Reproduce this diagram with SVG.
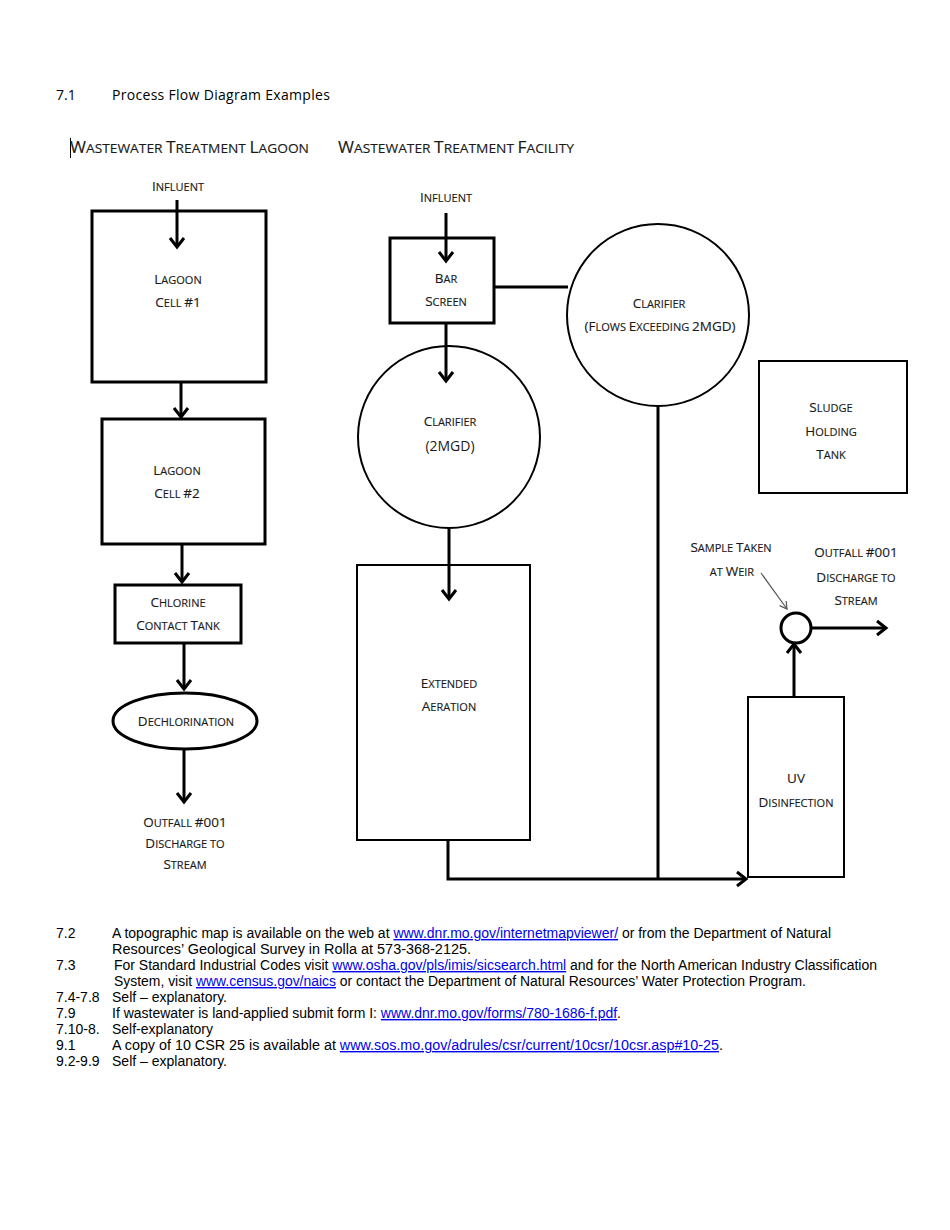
<svg xmlns="http://www.w3.org/2000/svg" width="950" height="1230" viewBox="0 0 950 1230">
<style>
.box{fill:#fff;stroke:#000;stroke-width:3}
.thin{fill:#fff;stroke:#000;stroke-width:2}
.lbl{font-family:"Open Sans","Liberation Sans",sans-serif;font-size:11px;fill:#1a1a1a;text-anchor:middle;stroke:#1a1a1a;stroke-width:0.15}
.C{font-size:13.5px}
.ttl{font-family:"Open Sans","Liberation Sans",sans-serif;font-size:13.5px;fill:#1a1a1a;stroke:#1a1a1a;stroke-width:0.15}
.T{font-size:17px}
.ln{fill:none;stroke:#000;stroke-width:3}
.ft{font-family:"Liberation Sans",Arial,sans-serif;font-size:14px;fill:#000}
.lk{fill:#0000ee;text-decoration:underline}
</style>
<defs>
<marker id="ah" markerUnits="userSpaceOnUse" markerWidth="24" markerHeight="24" viewBox="-12 -12 24 24" refX="0" refY="0" orient="auto">
<path d="M-9,-7 L0,0 L-9,7" fill="none" stroke="#000" stroke-width="3"/>
</marker>
<marker id="ahs" markerUnits="userSpaceOnUse" markerWidth="16" markerHeight="16" viewBox="-8 -8 16 16" refX="0" refY="0" orient="auto">
<path d="M-7,-4 L0,0 L-7,4" fill="none" stroke="#555" stroke-width="1.2"/>
</marker>
</defs>
<rect width="950" height="1230" fill="#fff"/>

<text x="56" y="100" font-family="Open Sans, Liberation Sans, sans-serif" font-size="14" fill="#000">7.1</text>
<text x="112" y="100" font-family="Open Sans, Liberation Sans, sans-serif" font-size="14" fill="#000" letter-spacing="0.3">Process Flow Diagram Examples</text>
<line x1="70.5" y1="138" x2="70.5" y2="158" stroke="#000" stroke-width="1"/>
<text class="ttl" x="70" y="153" textLength="239" lengthAdjust="spacingAndGlyphs"><tspan class="T">W</tspan>ASTEWATER <tspan class="T">T</tspan>REATMENT <tspan class="T">L</tspan>AGOON</text>
<text class="ttl" x="338" y="153" textLength="236" lengthAdjust="spacingAndGlyphs"><tspan class="T">W</tspan>ASTEWATER <tspan class="T">T</tspan>REATMENT <tspan class="T">F</tspan>ACILITY</text>

<g id="lagoon-influent"><text class="lbl" x="178" y="191"><tspan class="C">I</tspan>NFLUENT</text></g>
<g id="lagoon-cell-1">
<rect class="box" x="92" y="211" width="174" height="171"/>
<text class="lbl" x="178" y="284"><tspan class="C">L</tspan>AGOON</text>
<text class="lbl" x="178" y="307"><tspan class="C">C</tspan>ELL <tspan class="C">#1</tspan></text>
</g>
<g id="lagoon-cell-2">
<rect class="box" x="102" y="419" width="163" height="125"/>
<text class="lbl" x="177" y="475"><tspan class="C">L</tspan>AGOON</text>
<text class="lbl" x="177" y="498"><tspan class="C">C</tspan>ELL <tspan class="C">#2</tspan></text>
</g>
<g id="chlorine-contact-tank">
<rect class="box" x="115" y="585" width="126" height="58"/>
<text class="lbl" x="178" y="607"><tspan class="C">C</tspan>HLORINE</text>
<text class="lbl" x="178" y="630"><tspan class="C">C</tspan>ONTACT <tspan class="C">T</tspan>ANK</text>
</g>
<g id="dechlorination">
<ellipse class="box" cx="185" cy="721" rx="72" ry="28"/>
<text class="lbl" x="186" y="726"><tspan class="C">D</tspan>ECHLORINATION</text>
</g>
<g id="lagoon-outfall">
<text class="lbl" x="185" y="827"><tspan class="C">O</tspan>UTFALL <tspan class="C">#001</tspan></text>
<text class="lbl" x="185" y="848"><tspan class="C">D</tspan>ISCHARGE TO</text>
<text class="lbl" x="185" y="869"><tspan class="C">S</tspan>TREAM</text>
</g>

<g id="facility-influent"><text class="lbl" x="446" y="202"><tspan class="C">I</tspan>NFLUENT</text></g>
<g id="bar-screen">
<rect class="box" x="390" y="238" width="104" height="85" stroke-width="2.5"/>
<text class="lbl" x="446" y="283"><tspan class="C">B</tspan>AR</text>
<text class="lbl" x="446" y="306"><tspan class="C">S</tspan>CREEN</text>
</g>
<g id="clarifier-excess">
<circle class="thin" cx="658" cy="315" r="91"/>
<text class="lbl" x="659" y="308"><tspan class="C">C</tspan>LARIFIER</text>
<text class="lbl" x="660" y="331"><tspan class="C">(F</tspan>LOWS <tspan class="C">E</tspan>XCEEDING <tspan class="C">2MGD)</tspan></text>
</g>
<g id="clarifier-2mgd">
<circle class="thin" cx="449" cy="437" r="91"/>
<text class="lbl" x="450" y="426"><tspan class="C">C</tspan>LARIFIER</text>
<text x="450" y="451" font-family="Open Sans, Liberation Sans, sans-serif" font-size="14" fill="#1a1a1a" text-anchor="middle">(2MGD)</text>
</g>
<g id="sludge-holding-tank">
<rect class="thin" x="759" y="361" width="148" height="132"/>
<text class="lbl" x="831" y="412"><tspan class="C">S</tspan>LUDGE</text>
<text class="lbl" x="831" y="436"><tspan class="C">H</tspan>OLDING</text>
<text class="lbl" x="831" y="459"><tspan class="C">T</tspan>ANK</text>
</g>
<g id="extended-aeration">
<rect class="thin" x="357" y="565" width="173" height="275"/>
<text class="lbl" x="449" y="688"><tspan class="C">E</tspan>XTENDED</text>
<text class="lbl" x="449" y="711"><tspan class="C">A</tspan>ERATION</text>
</g>
<g id="uv-disinfection">
<rect class="thin" x="748" y="697" width="96" height="180"/>
<text class="lbl" x="796" y="783"><tspan class="C">UV</tspan></text>
<text class="lbl" x="796" y="807"><tspan class="C">D</tspan>ISINFECTION</text>
</g>
<g id="weir">
<circle cx="796" cy="628" r="15" fill="#fff" stroke="#000" stroke-width="3"/>
</g>
<g id="sample-label">
<text class="lbl" x="731" y="552"><tspan class="C">S</tspan>AMPLE <tspan class="C">T</tspan>AKEN</text>
<text class="lbl" x="732" y="576">AT <tspan class="C">W</tspan>EIR</text>
</g>
<g id="facility-outfall">
<text class="lbl" x="856" y="557"><tspan class="C">O</tspan>UTFALL <tspan class="C">#001</tspan></text>
<text class="lbl" x="856" y="582"><tspan class="C">D</tspan>ISCHARGE TO</text>
<text class="lbl" x="856" y="605"><tspan class="C">S</tspan>TREAM</text>
</g>

<g id="connectors">
<line class="ln" x1="177" y1="200" x2="177" y2="247" marker-end="url(#ah)"/>
<line class="ln" x1="181" y1="383" x2="181" y2="417" marker-end="url(#ah)"/>
<line class="ln" x1="182" y1="545" x2="182" y2="582" marker-end="url(#ah)"/>
<line class="ln" x1="184" y1="644" x2="184" y2="689" marker-end="url(#ah)"/>
<line class="ln" x1="184" y1="750" x2="184" y2="802" marker-end="url(#ah)"/>
<line class="ln" x1="446" y1="213" x2="446" y2="261" marker-end="url(#ah)"/>
<line class="ln" x1="446" y1="324" x2="446" y2="381" marker-end="url(#ah)"/>
<line class="ln" x1="495" y1="287" x2="568" y2="287"/>
<line class="ln" x1="449" y1="529" x2="449" y2="599" marker-end="url(#ah)"/>
<polyline class="ln" points="448,841 448,879 746,879" marker-end="url(#ah)"/>
<line class="ln" x1="658" y1="406" x2="658" y2="879"/>
<line class="ln" x1="794" y1="696" x2="794" y2="644" marker-end="url(#ah)"/>
<line class="ln" x1="811" y1="628" x2="886" y2="628" marker-end="url(#ah)"/>
<line x1="761" y1="573" x2="787" y2="609" stroke="#555" stroke-width="1.2" marker-end="url(#ahs)"/>
</g>

<g id="notes" class="ft">
<text x="56" y="938">7.2</text>
<text x="112" y="938" textLength="719" lengthAdjust="spacingAndGlyphs">A topographic map is available on the web at <tspan class="lk">www.dnr.mo.gov/internetmapviewer/</tspan> or from the Department of Natural</text>
<text x="112" y="954" textLength="359" lengthAdjust="spacingAndGlyphs">Resources’ Geological Survey in Rolla at 573-368-2125.</text>
<text x="56" y="970">7.3</text>
<text x="114" y="970" textLength="763" lengthAdjust="spacingAndGlyphs">For Standard Industrial Codes visit <tspan class="lk">www.osha.gov/pls/imis/sicsearch.html</tspan> and for the North American Industry Classification</text>
<text x="114" y="986" textLength="692" lengthAdjust="spacingAndGlyphs">System, visit <tspan class="lk">www.census.gov/naics</tspan> or contact the Department of Natural Resources’ Water Protection Program.</text>
<text x="56" y="1002">7.4-7.8</text>
<text x="112" y="1002" textLength="115" lengthAdjust="spacingAndGlyphs">Self – explanatory.</text>
<text x="56" y="1018">7.9</text>
<text x="112" y="1018" textLength="509" lengthAdjust="spacingAndGlyphs">If wastewater is land-applied submit form I: <tspan class="lk">www.dnr.mo.gov/forms/780-1686-f.pdf</tspan>.</text>
<text x="56" y="1034">7.10-8.</text>
<text x="112" y="1034" textLength="101" lengthAdjust="spacingAndGlyphs">Self-explanatory</text>
<text x="56" y="1050">9.1</text>
<text x="112" y="1050" textLength="611" lengthAdjust="spacingAndGlyphs">A copy of 10 CSR 25 is available at <tspan class="lk">www.sos.mo.gov/adrules/csr/current/10csr/10csr.asp#10-25</tspan>.</text>
<text x="56" y="1066">9.2-9.9</text>
<text x="112" y="1066" textLength="115" lengthAdjust="spacingAndGlyphs">Self – explanatory.</text>
</g>
</svg>
